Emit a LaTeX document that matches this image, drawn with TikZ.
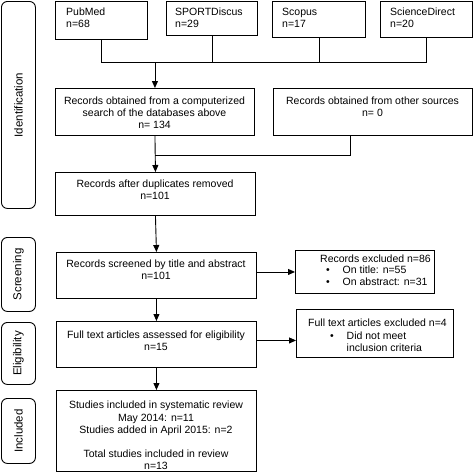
\documentclass[tikz,border=0pt]{standalone}
\usepackage{fontspec}
\setmainfont{Liberation Sans}
\usetikzlibrary{arrows.meta}
\begin{document}
\begin{tikzpicture}[x=1pt,y=-1pt,
  box/.style={draw=black,line width=0.9pt,inner sep=0pt,anchor=north west},
  phase/.style={draw=black,line width=0.9pt,rounded corners=6pt,inner sep=0pt,anchor=north west},
  txt/.style={inner sep=0pt,font=\fontsize{10.5}{11.9}\selectfont},
  ptxt/.style={inner sep=0pt,rotate=90,font=\fontsize{11.5}{13}\selectfont},
  conn/.style={draw=black,line width=0.9pt},
  arr/.style={conn,-{Triangle[width=6pt,length=7pt]}}]
\useasboundingbox (0,0) rectangle (473,472);
% phase labels
\node[phase,minimum width=34pt,minimum height=207pt] (pid) at (1,1) {};
\node[ptxt] (pidt) at (pid.center) {Identification};
\node[phase,minimum width=34pt,minimum height=74pt] (psc) at (1,237) {};
\node[ptxt] (psct) at (psc.center) {Screening};
\node[phase,minimum width=34pt,minimum height=62pt] (pel) at (1,322) {};
\node[ptxt] (pelt) at (pel.center) {Eligibility};
\node[phase,minimum width=34pt,minimum height=65pt] (pin) at (1,398) {};
\node[ptxt] (pint) at (pin.center) {Included};
% top database boxes
\node[box,minimum width=92pt,minimum height=38.5pt] (pub) at (55,0.5) {};
\node[txt,anchor=north west,align=left] (pubt) at (66,8) {PubMed\\n=68};
\node[box,minimum width=91pt,minimum height=34pt] (spo) at (166,0.5) {};
\node[txt,anchor=north west,align=left] (spot) at (175,8) {SPORTDiscus\\n=29};
\node[box,minimum width=93pt,minimum height=36.5pt] (sco) at (272,0.5) {};
\node[txt,anchor=north west,align=left] (scot) at (282,8) {Scopus\\n=17};
\node[box,minimum width=92pt,minimum height=36.5pt] (sci) at (380,0.5) {};
\node[txt,anchor=north west,align=left] (scit) at (390,8) {ScienceDirect\\n=20};
% second row
\node[box,minimum width=199pt,minimum height=47pt] (rec) at (55,88) {};
\node[txt,anchor=north,align=center] (rect) at (154.5,97) {Records obtained from a computerized\\search of the databases above\\n= 134};
\node[box,minimum width=199pt,minimum height=47pt] (oth) at (273,88) {};
\node[txt,anchor=north,align=center] (otht) at (372.5,97) {Records obtained from other sources\\n= 0};
% duplicates
\node[box,minimum width=200pt,minimum height=43pt] (dup) at (55,172) {};
\node[txt,anchor=north,align=center] (dupt) at (155,180) {Records after duplicates removed\\n=101};
% screening
\node[box,minimum width=200pt,minimum height=46pt] (scr) at (56,252) {};
\node[txt,anchor=north,align=center] (scrt) at (156,260) {Records screened by title and abstract\\n=101};
\node[box,minimum width=139pt,minimum height=43pt] (exc) at (295,250) {};
\node[txt,anchor=north west] (exct) at (320,255) {Records excluded n=86};
\node[txt,anchor=north west,align=left] (excl) at (326,266) {\makebox[16.5pt][l]{\textbullet}On title: n=55\\\makebox[16.5pt][l]{\textbullet}On abstract: n=31};
% eligibility
\node[box,minimum width=200pt,minimum height=46pt] (ft) at (56,321) {};
\node[txt,anchor=north,align=center] (ftt) at (156,331) {Full text articles assessed for eligibility\\n=15};
\node[box,minimum width=157pt,minimum height=48pt] (ex2) at (296,309) {};
\node[txt,anchor=north west] (ex2t) at (308,319) {Full text articles excluded n=4};
\node[txt,anchor=north west,align=left] (ex2l) at (330,332) {\makebox[16.5pt][l]{\textbullet}Did not meet\\\hspace*{16.5pt}inclusion criteria};
% included
\node[box,minimum width=200pt,minimum height=81pt] (inc) at (56,390) {};
\node[txt,anchor=north,align=center,font=\fontsize{10.5}{12.2}\selectfont] (inct) at (156,401) {Studies included in systematic review\\May 2014: n=11\\Studies added in April 2015: n=2\\[12.2pt]Total studies included in review\\n=13};
% connectors
\coordinate (j1) at (0,62);
\coordinate (j2) at (0,155);
\draw[conn] (pub.south) -- (pub.south |- j1) -- (sci.south |- j1) -- (sci.south);
\draw[conn] (spo.south) -- (spo.south |- j1);
\draw[conn] (sco.south) -- (sco.south |- j1);
\draw[arr] (rec.north |- j1) -- (rec.north);
\draw[conn] ([xshift=-23pt]oth.south) -- ([xshift=-23pt]oth.south |- j2) -- (rec.south |- j2);
\draw[arr] (rec.south) -- (dup.north);
\draw[arr] (dup.south) -- (scr.north);
\draw[arr] (scr.east |- exc.west) -- (exc.west);
\draw[arr] (scr.south) -- (ft.north);
\draw[arr] ([yshift=-7pt]ex2.west -| ft.east) -- ([yshift=-7pt]ex2.west);
\draw[arr] (ft.south) -- (inc.north);
\end{tikzpicture}
\end{document}
